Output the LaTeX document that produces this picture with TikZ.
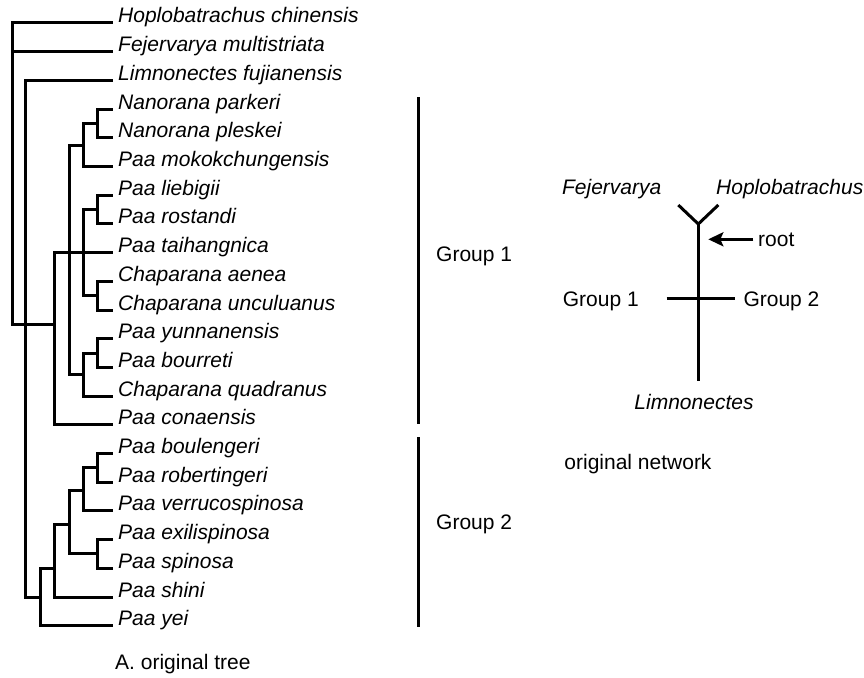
\documentclass[tikz,border=0pt]{standalone}
\usepackage{fontspec}
\setmainfont{Liberation Sans}
\usetikzlibrary{arrows.meta}
\begin{document}
\begin{tikzpicture}[x=1pt,y=-1pt,
  every node/.style={inner sep=0pt, font=\fontsize{21}{25}\selectfont},
  leaf/.style={anchor=base west, font=\fontsize{21}{25}\selectfont\itshape},
  ileaf/.style={anchor=base, font=\fontsize{21}{25}\selectfont\itshape},
  lab/.style={anchor=base west},
  clab/.style={anchor=base},
  branch/.style={line width=3pt, line cap=rect},
  bar/.style={line width=3pt},
  net/.style={line width=3pt}]
\useasboundingbox (0,0) rectangle (864,677);

% leaves
\foreach \i/\nm in {0/Hoplobatrachus chinensis, 1/Fejervarya multistriata, 2/Limnonectes fujianensis,
  3/Nanorana parkeri, 4/Nanorana pleskei, 5/Paa mokokchungensis, 6/Paa liebigii, 7/Paa rostandi,
  8/Paa taihangnica, 9/Chaparana aenea, 10/Chaparana unculuanus, 11/Paa yunnanensis, 12/Paa bourreti,
  13/Chaparana quadranus, 14/Paa conaensis, 15/Paa boulengeri, 16/Paa robertingeri,
  17/Paa verrucospinosa, 18/Paa exilispinosa, 19/Paa spinosa, 20/Paa shini, 21/Paa yei} {
  \coordinate (t\i) at (111.5,23+28.7*\i);
  \node[leaf] (l\i) at (118,23+28.7*\i) {\nm};
}

% internal nodes
\coordinate (root) at (12,324);
\coordinate (X) at (25,324);
\coordinate (G1) at (54,324);
\coordinate (A) at (69,252.6);
\coordinate (B) at (83,145);
\coordinate (K) at (97,123.45);
\coordinate (D) at (83,252.6);
\coordinate (M) at (97,209.55);
\coordinate (N) at (97,295.65);
\coordinate (C) at (83,374.6);
\coordinate (L) at (97,353.05);
\coordinate (G2) at (40,597);
\coordinate (E) at (54,568.5);
\coordinate (F) at (69,524);
\coordinate (H) at (83,490);
\coordinate (J) at (97,467.85);
\coordinate (I) at (97,553.95);

\draw[branch] (root) |- (t0);
\draw[branch] (root) |- (t1);
\draw[branch] (root) |- (X);
\draw[branch] (X) |- (t2);
\draw[branch] (X) |- (G1);
\draw[branch] (X) |- (G2);
\draw[branch] (G1) |- (A);
\draw[branch] (G1) |- (t14);
\draw[branch] (A) |- (B);
\draw[branch] (A) |- (D);
\draw[branch] (A) |- (C);
\draw[branch] (B) |- (K);
\draw[branch] (B) |- (t5);
\draw[branch] (K) |- (t3);
\draw[branch] (K) |- (t4);
\draw[branch] (D) |- (M);
\draw[branch] (D) |- (t8);
\draw[branch] (D) |- (N);
\draw[branch] (M) |- (t6);
\draw[branch] (M) |- (t7);
\draw[branch] (N) |- (t9);
\draw[branch] (N) |- (t10);
\draw[branch] (C) |- (L);
\draw[branch] (C) |- (t13);
\draw[branch] (L) |- (t11);
\draw[branch] (L) |- (t12);
\draw[branch] (G2) |- (E);
\draw[branch] (G2) |- (t21);
\draw[branch] (E) |- (F);
\draw[branch] (E) |- (t20);
\draw[branch] (F) |- (H);
\draw[branch] (F) |- (I);
\draw[branch] (H) |- (J);
\draw[branch] (H) |- (t17);
\draw[branch] (J) |- (t15);
\draw[branch] (J) |- (t16);
\draw[branch] (I) |- (t18);
\draw[branch] (I) |- (t19);

% group bars
\coordinate (g1top) at (418,97);
\coordinate (g1bot) at (418,424);
\coordinate (g2top) at (418,437);
\coordinate (g2bot) at (418,627);
\draw[bar] (g1top) -- (g1bot);
\draw[bar] (g2top) -- (g2bot);
\node[lab] (grp1) at (436,261) {Group 1};
\node[lab] (grp2) at (436,529) {Group 2};
\node[lab] (cap) at (115,669) {A. original tree};

% network
\coordinate (yj) at (698.3,224);
\coordinate (ya) at (678.3,205);
\coordinate (yb) at (718.3,205);
\coordinate (ybot) at (698.3,381);
\draw[net] (ya) -- (yj) -- (yb);
\draw[net] (yj) -- (ybot);
\coordinate (cl) at (666.7,298.3);
\coordinate (cr) at (735,298.3);
\draw[net] (cl) -- (cr);
\node[lab] (rootlab) at (758,246) {root};
\coordinate (arrs) at (753.3,239.3);
\coordinate (arre) at (708.3,239.3);
\draw[net, -{Stealth[length=15pt,width=14pt,inset=3pt]}] (arrs) -- (arre);
\node[ileaf] (fej) at (611.7,194) {Fejervarya};
\node[leaf] (hop) at (716,194) {Hoplobatrachus};
\node[lab] (ng1) at (562.7,306) {Group 1};
\node[lab] (ng2) at (743.3,306) {Group 2};
\node[ileaf] (lim) at (694,409.5) {Limnonectes};
\node[clab] (onet) at (638,469) {original network};
\end{tikzpicture}
\end{document}
